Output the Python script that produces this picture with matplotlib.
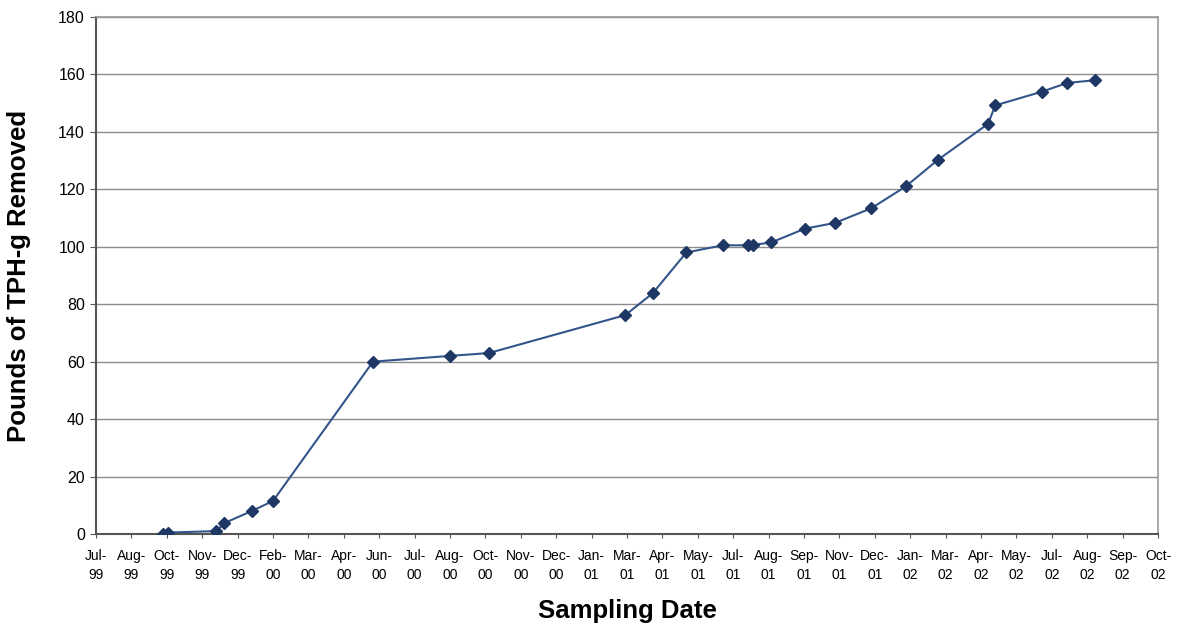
import datetime as dt
import matplotlib
matplotlib.use('Agg')
import matplotlib.pyplot as plt
import matplotlib.dates as mdates

plt.rcParams['font.family'] = ['Liberation Sans', 'DejaVu Sans']

# sampling dates and cumulative TPH-g removed (lbs)
dates = ['1999-10-03', '1999-10-08', '1999-12-02', '1999-12-11', '2000-01-11',
         '2000-02-04', '2000-05-27', '2000-08-22', '2000-10-05', '2001-03-08',
         '2001-04-08', '2001-05-16', '2001-06-26', '2001-07-25', '2001-07-30',
         '2001-08-20', '2001-09-27', '2001-10-31', '2001-12-11', '2002-01-19',
         '2002-02-24', '2002-04-22', '2002-04-30', '2002-06-22', '2002-07-20',
         '2002-08-21']
pounds = [0.0, 0.5, 1.0, 3.8, 8.0, 11.5, 60.0, 62.0, 63.0, 76.2,
          83.8, 98.0, 100.5, 100.5, 100.6, 101.5, 106.3, 108.3, 113.4, 121.0,
          130.2, 142.8, 149.2, 154.0, 157.0, 158.0]

axis_start = dt.date(1999, 7, 19)
tick_step = 40   # days between date labels
n_ticks = 31

x = [dt.datetime.strptime(d, '%Y-%m-%d') for d in dates]
ticks = [axis_start + dt.timedelta(days=tick_step * i) for i in range(n_ticks)]

fig = plt.figure(figsize=(11.77, 6.28), dpi=100)
ax = fig.add_axes([0.0816, 0.1497, 0.9023, 0.8233])

ax.plot(x, pounds, color='#34558a', lw=1.5, marker='D', ms=6.5,
        mfc='#1e3764', mec='#1e3764', zorder=3)

ax.set_xlim(ticks[0], ticks[-1])
ax.set_ylim(0, 180)
ax.set_yticks(range(0, 181, 20))
ax.set_xticks(ticks)
ax.xaxis.set_major_formatter(mdates.DateFormatter('%b-\n%y'))
ax.tick_params(axis='x', labelsize=10, length=3, color='#555555', pad=8)
ax.tick_params(axis='y', labelsize=11.5, length=4, color='#555555', pad=4)
for lbl in ax.get_xticklabels():
    lbl.set_linespacing(1.45)

ax.yaxis.grid(True, color='#8c8c8c', lw=1.0)
ax.set_axisbelow(True)
for side in ['left', 'bottom']:
    ax.spines[side].set_color('#555555')
    ax.spines[side].set_linewidth(1.5)
for side in ['top', 'right']:
    ax.spines[side].set_color('#9a9a9a')
    ax.spines[side].set_linewidth(1.2)

ax.set_xlabel('Sampling Date', fontsize=18.5, fontweight='bold')
ax.set_ylabel('Pounds of TPH-g Removed', fontsize=18.5, fontweight='bold')
ax.xaxis.set_label_coords(0.5, -0.125)
ax.yaxis.set_label_coords(-0.061, 0.5)

fig.savefig('out.png', dpi=100)
